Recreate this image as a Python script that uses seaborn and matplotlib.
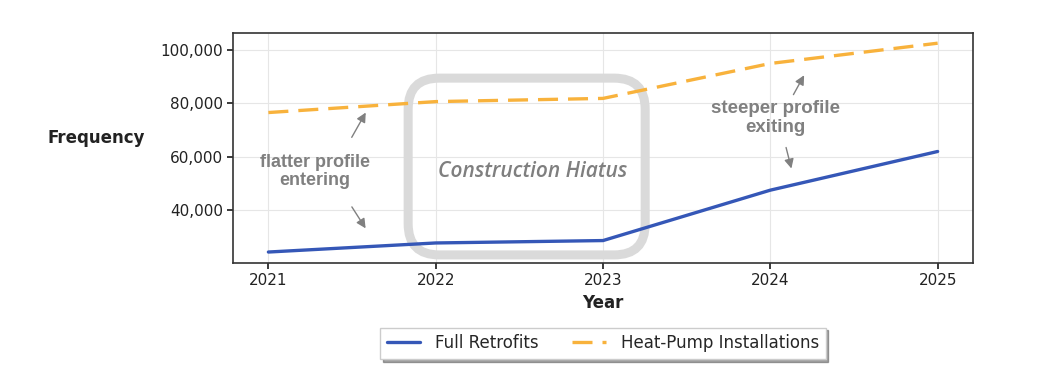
import matplotlib
matplotlib.use("Agg")
import matplotlib.pyplot as plt
import seaborn as sns
import pandas as pd
from matplotlib.patches import FancyBboxPatch

years = [2021, 2022, 2023, 2024, 2025]
full_retrofits = [24300, 27700, 28600, 47500, 62000]
heat_pumps = [76600, 80700, 81900, 95000, 102600]

df = pd.DataFrame({
    "Year": years * 2,
    "Frequency": full_retrofits + heat_pumps,
    "Series": ["Full Retrofits"] * 5 + ["Heat-Pump Installations"] * 5,
})

sns.set_theme(style="whitegrid")
plt.rcParams["font.family"] = ["DejaVu Sans"]

fig, ax = plt.subplots(figsize=(10.46, 3.89), dpi=100)
fig.subplots_adjust(left=0.223, right=0.930, top=0.915, bottom=0.324)

sns.lineplot(data=df, x="Year", y="Frequency", hue="Series", style="Series",
             palette=["#3557b7", "#f8b23c"], dashes=[(None, None), (6, 3)],
             linewidth=2.4, ax=ax)

ax.set_xlim(2020.79, 2025.21)
ax.set_ylim(20200, 106400)
ax.set_xticks(years)
ax.set_yticks([40000, 60000, 80000, 100000])
ax.yaxis.set_major_formatter(matplotlib.ticker.FuncFormatter(lambda v, p: f"{int(v):,}"))
ax.tick_params(axis="both", labelsize=11, colors="#222222", length=4, direction="out",
               bottom=True, left=True)
ax.grid(color="#e6e6e6", linewidth=0.8)
for s in ax.spines.values():
    s.set_color("#333333")
    s.set_linewidth(1.2)

ax.set_xlabel("Year", fontsize=12, fontweight="bold", color="#222222")
ax.set_ylabel("Frequency", fontsize=12, fontweight="bold", color="#222222",
              rotation=0, ha="center", va="center")
ax.yaxis.set_label_coords(-0.185, 0.543)

# hiatus box (axes coords)
box = FancyBboxPatch((0.2365, 0.035), 0.3205, 0.769,
                     boxstyle="round,pad=0,rounding_size=0.042",
                     mutation_aspect=740 / 230, transform=ax.transAxes,
                     fill=False, edgecolor="#dadada", linewidth=6.5, zorder=1)
ax.add_patch(box)
ax.text(2022.58, 54400, "Construction Hiatus", fontsize=15, style="italic",
        fontweight="semibold", color="#7f7f7f", ha="center", va="center",
        family="Open Sans")

gray = "#808080"
arrow = dict(arrowstyle="-|>", color=gray, lw=1.0, mutation_scale=14)
ax.text(2021.28, 54400, "flatter profile\nentering", fontsize=13, fontweight="bold",
        color=gray, ha="center", va="center", family="Liberation Sans", linespacing=1.1)
ax.annotate("", xy=(2021.59, 77500), xytext=(2021.49, 66400), arrowprops=arrow)
ax.annotate("", xy=(2021.59, 32300), xytext=(2021.49, 42100), arrowprops=arrow)

ax.text(2024.03, 74600, "steeper profile\nexiting", fontsize=13.5, fontweight="bold",
        color=gray, ha="center", va="center", family="Liberation Sans", linespacing=1.1)
ax.annotate("", xy=(2024.21, 91500), xytext=(2024.13, 82400), arrowprops=arrow)
ax.annotate("", xy=(2024.13, 54600), xytext=(2024.09, 64500), arrowprops=arrow)

handles, labels = ax.get_legend_handles_labels()
ax.legend(handles, labels, loc="upper center", bbox_to_anchor=(0.5, -0.245), ncol=2,
          frameon=True, shadow=True, fancybox=False, fontsize=12,
          edgecolor="#cccccc", columnspacing=2.0, handlelength=2.0, handletextpad=0.9)

fig.savefig("out.png", dpi=100)
